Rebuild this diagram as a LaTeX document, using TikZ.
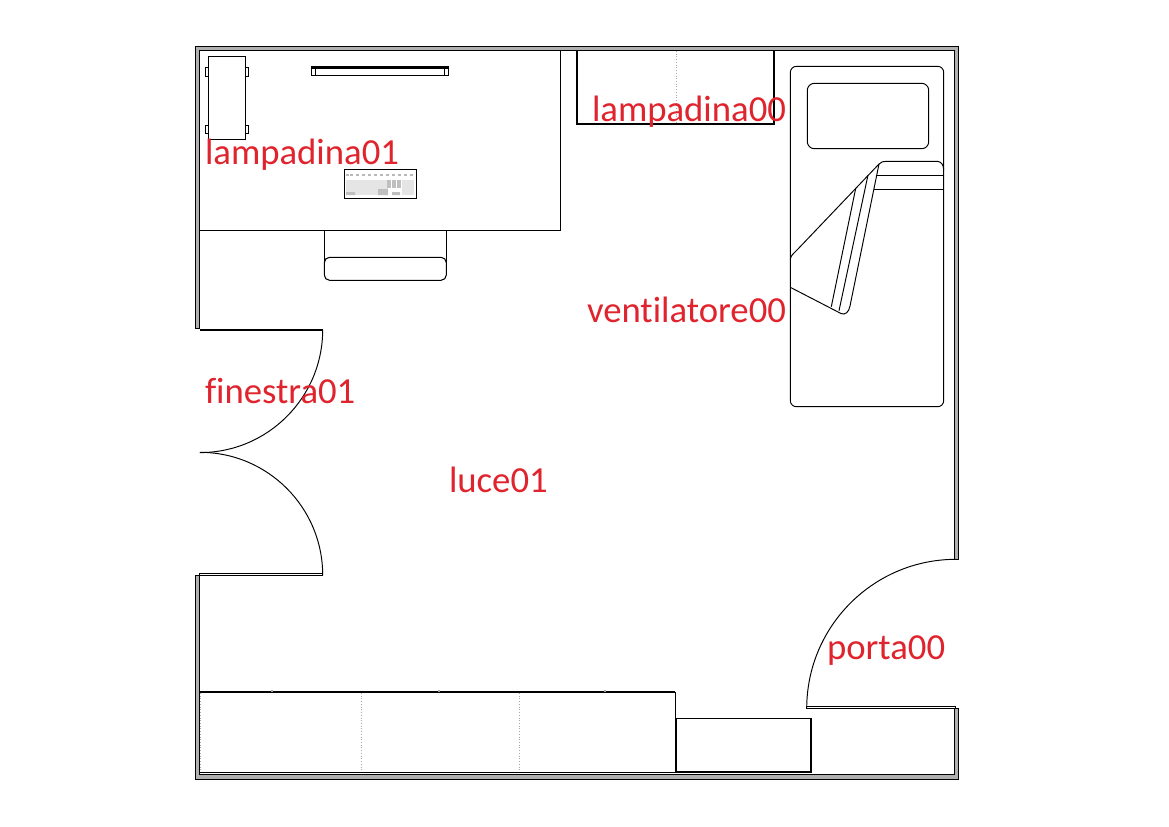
\documentclass[tikz,border=0pt]{standalone}
\usepackage{fontspec}
\setmainfont[Ligatures=NoCommon]{Carlito}
\definecolor{labelred}{RGB}{224,36,46}
\definecolor{wallgray}{RGB}{176,176,176}
\tikzset{
 roomlabel/.style={anchor=base west,inner sep=0pt,outer sep=0pt,text=labelred,font=\fontsize{20.9}{24}\selectfont},
 thinline/.style={line width=0.55pt,black},
 mainline/.style={line width=0.6pt,black},
 wallline/.style={line width=0.5pt,black,fill=wallgray},
 heavyline/.style={line width=1.1pt,black},
 dotline/.style={line width=0.55pt,gray!70,densely dotted},
}
\begin{document}
\begin{tikzpicture}[x=0.02cm,y=-0.02cm]
 \useasboundingbox (0,0) rectangle (1169,826);
 \fill[white] (0,0) rectangle (1169,826);
 \draw[wallline] (195.2,328)--(195.2,46.2)--(958.8,46.2)--(958.8,559)--(954.2,559)--(954.2,50.8)--(199.8,50.8)--(199.8,328)--cycle; %upper wall
 \draw[wallline] (195.2,575)--(195.2,779.2)--(958.8,779.2)--(958.8,708)--(954.2,708)--(954.2,774.8)--(199.8,774.8)--(199.8,575)--cycle; %lower wall
 \draw[thinline] (199.8,230)--(560,230)--(560,50.8); %desk
 \draw[mainline] (324.3,230)--(324.3,262) (446.3,230)--(446.3,262); %chair
 \draw[mainline,rounded corners=3pt,fill=white] (324.3,257.3) rectangle (446.3,280.3);
 \draw[mainline,fill=white] (208.3,56.3) rectangle (245.7,139.3); %tower
 \draw[mainline] (205.3,67.3) rectangle (208.3,76.7) (245.7,67.3) rectangle (248.7,76.7);
 \draw[mainline] (205.3,125.3) rectangle (208.3,133.7) (245.7,125.3) rectangle (248.7,133.7);
 \draw[mainline] (311.3,66.3) rectangle (448.7,75.7); %monitor
 \draw[mainline] (311.3,68)--(448.7,68) (315.7,66.3)--(315.7,75.7) (444.3,66.3)--(444.3,75.7);
 \draw[mainline] (344.3,169.3) rectangle (416.7,198.3); %keyboard
 \fill[gray!20] (346,180) rectangle (388,195);
 \fill[gray!20] (402,180) rectangle (414,195);
 \foreach \kx in {346,350,356,362,368,374,380,386,392,398,404,410}
  \fill[gray!55] (\kx,174) rectangle +(3,2);
 \foreach \kx in {387,392,397}
  \fill[gray!50] (\kx,180) rectangle +(4,8);
 \fill[gray!50] (346,192) rectangle (355,195) (378,189) rectangle (388,195) (392,192) rectangle (400,195);
 \draw[dotline] (676,51)--(676,122); %top cupboard
 \draw[heavyline] (577.3,50.8)--(577.3,123.7)--(774.3,123.7)--(774.3,50.8);
 \draw[thinline,rounded corners=3.5pt] (790.3,66.3) rectangle (943.7,406.7); %bed
 \draw[thinline,rounded corners=4pt] (807.3,83.3) rectangle (928.7,148.7); %pillow
 \draw[thinline] (879,164)..controls (881,162) and (883,161.3)..(886,161.3)--(937,161.3)..controls (941,161.3) and (943.7,165)..(943.7,170);
 \draw[thinline] (877.3,175.3)--(943.7,175.3) (874.3,189.3)--(943.7,189.3);
 \draw[thinline] (879,164)--(797,250)..controls (793,254) and (790.3,256)..(790.3,260); %blanket
 \draw[thinline] (879,164)--(850,306)..controls (849,312) and (845,315.5)..(841,313.5)--(790.3,287.3);
 \draw[thinline] (855.7,188.3)--(831.3,306.7) (868,175)--(839,310.7);
 \draw[thinline] (956,559.3) arc[start angle=-90,end angle=-180,radius=149.3]; %door
 \draw[thinline] (806.7,706.7)--(955,706.7)--(955,708.3)--(806.7,708.3)--cycle;
 \draw[heavyline] (199.8,329.7)--(322.7,329.7); %window
 \draw[thinline] (322.7,329.7) arc[start angle=0,end angle=90,radius=122.9];
 \draw[thinline] (199.8,452.3) arc[start angle=-90,end angle=0,radius=122.9];
 \draw[thinline] (199.8,573.5)--(322.7,573.5)--(322.7,575.5)--(199.8,575.5)--cycle;
 \draw[dotline] (200.8,693)--(200.8,771) (361.7,693)--(361.7,771) (519,693)--(519,771); %bottom cupboard
 \draw[heavyline] (199.8,692)--(675.3,692);
 \draw[mainline] (675.3,692)--(675.3,772.3)--(199.8,772.3);
 \foreach \tx in {271,438,604}
  \fill[gray!70] (\tx,690) rectangle +(1.5,1.5);
 \draw[mainline] (676,718.3)--(811,718.3); %small box
 \draw[heavyline] (676,718.3)--(676,771.7)--(811,771.7)--(811,718.3);
 \node[roomlabel] (lampadina01) at (205,164.5) {lampadina01};
 \node[roomlabel] (lampadina00) at (592,121.5) {lampadina00};
 \node[roomlabel] (ventilatore00) at (587,322) {ventilatore00};
 \node[roomlabel] (finestra01) at (205,403) {finestra01};
 \node[roomlabel] (luce01) at (449,492) {luce01};
 \node[roomlabel] (porta00) at (827,659) {porta00};
\end{tikzpicture}
\end{document}
